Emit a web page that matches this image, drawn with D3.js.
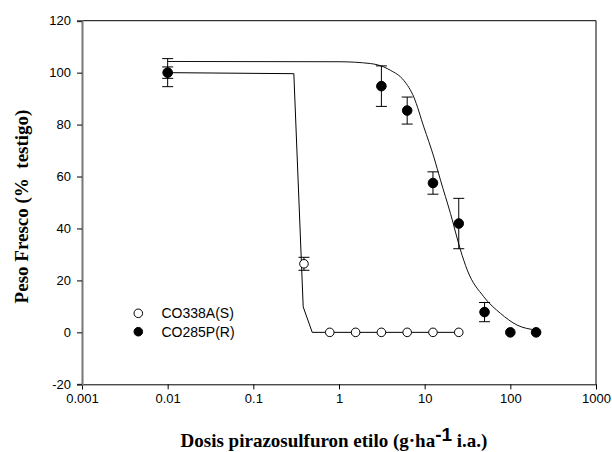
<!DOCTYPE html>
<html><head><meta charset="utf-8">
<script src="https://cdn.jsdelivr.net/npm/d3@7"></script>
<style>body{margin:0;background:#fff}svg{display:block}</style>
</head><body>
<svg id="c" width="612" height="452"></svg>
<script>
// Data
const xTicks = [0.001, 0.01, 0.1, 1, 10, 100, 1000];
const xTickLabels = ["0.001", "0.01", "0.1", "1", "10", "100", "1000"];
const yTicks = [-20, 0, 20, 40, 60, 80, 100, 120];
const yTickLabels = ["-20", "0", "20", "40", "60", "80", "100", "120"];

const rDoses = [0.01, 3.125, 6.25, 12.5, 25, 50, 100, 200];
const rMeans = [100, 94.8, 85.4, 57.5, 41.9, 7.8, 0, 0];
const rErr   = [5.4, 7.8, 5.2, 4.3, 9.7, 3.7, 0, 0];

const sDoses = [0.01, 0.39, 0.78, 1.5625, 3.125, 6.25, 12.5, 25];
const sMeans = [100, 26.4, 0, 0, 0, 0, 0, 0];
const sErr   = [2.2, 2.5, 0, 0, 0, 0, 0, 0];

const sFitX = [0.01, 0.297, 0.382, 0.487, 25];
const sFitY = [100, 99.6, 9.8, 0, 0];

const rFitX = [0.01, 1, 2.33, 3.33, 3.99, 5.71, 7.47, 9.77, 12.8, 15.3, 20.0, 26.2, 31.4, 49, 76.8, 120, 200];
const rFitY = [104.3, 104.2, 103.5, 102.2, 100.9, 97.0, 90.6, 79.1, 67.5, 58.6, 45.8, 31.7, 24, 13.7, 7.3, 2.8, 0.9];

const legendLabels = ["CO338A(S)", "CO285P(R)"];

// Layout
const L = 82, R = 596, T = 20.7, B = 384.3;
const svg = d3.select("#c");
const x = d3.scaleLog().domain([0.001, 1000]).range([L, R]);
const y = d3.scaleLinear().domain([-20, 120]).range([B, T]);

// frame top & right
svg.append("line").attr("x1", L).attr("x2", R).attr("y1", T).attr("y2", T).attr("stroke", "#000");
svg.append("line").attr("x1", R).attr("x2", R).attr("y1", T).attr("y2", B).attr("stroke", "#000");

// x axis
const gx = svg.append("g").attr("transform", `translate(0,${B})`)
  .call(d3.axisBottom(x).tickValues(xTicks).tickFormat((d, i) => xTickLabels[i]).tickSize(5).tickPadding(4));
gx.select(".domain").attr("stroke", "#000");
gx.selectAll("text").attr("font-family", "Liberation Sans, Arial, sans-serif").attr("font-size", 13).attr("fill", "#000");

// y axis
const gy = svg.append("g").attr("transform", `translate(${L},0)`)
  .call(d3.axisLeft(y).tickValues(yTicks).tickFormat((d, i) => yTickLabels[i]).tickSize(5).tickPadding(6));
gy.select(".domain").attr("stroke", "#777").attr("stroke-width", 2);
gy.selectAll("text").attr("font-family", "Liberation Sans, Arial, sans-serif").attr("font-size", 13).attr("fill", "#000");

// fit curves
const lineLin = d3.line().x(d => x(d[0])).y(d => y(d[1]));
svg.append("path").datum(sFitX.map((v, i) => [v, sFitY[i]]))
  .attr("d", lineLin).attr("fill", "none").attr("stroke", "#000").attr("stroke-width", 1);
const lineSmooth = d3.line().x(d => x(d[0])).y(d => y(d[1])).curve(d3.curveMonotoneX);
svg.append("path").datum(rFitX.map((v, i) => [v, rFitY[i]]))
  .attr("d", lineSmooth).attr("fill", "none").attr("stroke", "#111").attr("stroke-width", 1);

function drawSeries(doses, means, errs, filled) {
  const g = svg.append("g");
  doses.forEach((d, i) => {
    if (errs[i] > 0) {
      const cx = x(d), y1 = y(means[i] + errs[i]), y2 = y(means[i] - errs[i]);
      g.append("line").attr("x1", cx).attr("x2", cx).attr("y1", y1).attr("y2", y2).attr("stroke", "#000");
      [y1, y2].forEach(yy => g.append("line").attr("x1", cx - 5.5).attr("x2", cx + 5.5)
        .attr("y1", yy).attr("y2", yy).attr("stroke", "#000"));
    }
  });
  doses.forEach((d, i) => {
    g.append("circle").attr("cx", x(d)).attr("cy", y(means[i]))
      .attr("r", filled ? 4.8 : 4.3)
      .attr("fill", filled ? "#000" : "#fff").attr("stroke", "#000").attr("stroke-width", 1);
  });
}
drawSeries(sDoses, sMeans, sErr, false);
drawSeries(rDoses, rMeans, rErr, true);

// legend
const lg = svg.append("g");
legendLabels.forEach((t, i) => {
  const yy = 313.3 + i * 18.4;
  lg.append("circle").attr("cx", 138.3).attr("cy", yy).attr("r", 4.3)
    .attr("fill", i === 0 ? "#fff" : "#000").attr("stroke", "#000");
  lg.append("text").attr("x", 161.5).attr("y", yy + 5).text(t)
    .attr("font-family", "Liberation Sans, Arial, sans-serif").attr("font-size", 14).attr("fill", "#000");
});

// axis titles
svg.append("text").attr("transform", "translate(27.5,206.5) rotate(-90)")
  .attr("text-anchor", "middle").attr("font-family", "Liberation Serif, Times New Roman, serif")
  .attr("font-weight", "bold").attr("font-size", 19).text("Peso Fresco (%  testigo)")
  .style("white-space", "pre");

const xt = svg.append("text").attr("x", 334).attr("y", 447).attr("text-anchor", "middle")
  .attr("font-family", "Liberation Serif, Times New Roman, serif").attr("font-weight", "bold").attr("font-size", 19);
xt.append("tspan").text("Dosis pirazosulfuron etilo (g\u00B7ha");
xt.append("tspan").attr("dy", -6).attr("font-family", "Liberation Sans, Arial, sans-serif").text("-1");
xt.append("tspan").attr("dy", 6).text(" i.a.)");
</script>
</body></html>
